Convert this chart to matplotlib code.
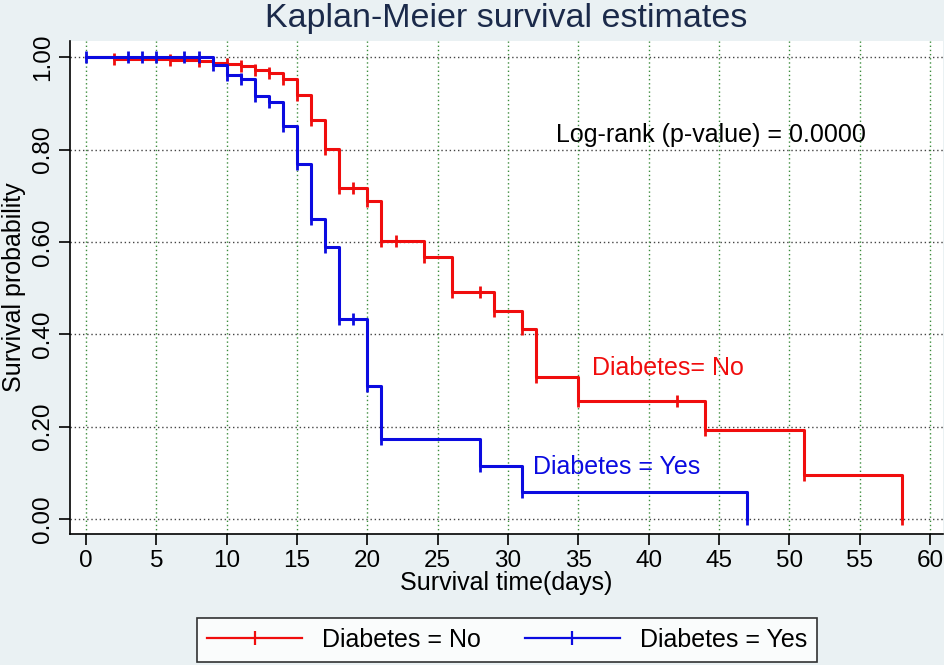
import matplotlib
matplotlib.use("Agg")
import matplotlib.pyplot as plt
from matplotlib.lines import Line2D
import numpy as np

# Kaplan-Meier steps (time in days, survival after the step)
no_time = [0, 2, 6, 8, 9, 10, 11, 12, 13, 14, 15, 16, 17, 18, 20, 21, 24, 26, 29, 31, 32, 35, 44, 51, 58]
no_surv = [1.0, 0.997, 0.994, 0.991, 0.988, 0.985, 0.980, 0.973, 0.965, 0.952, 0.918, 0.865,
           0.802, 0.716, 0.689, 0.603, 0.567, 0.492, 0.451, 0.411, 0.308, 0.256, 0.193, 0.095, 0.0]
no_ticks = [2, 6, 8, 10, 11, 12, 13, 14, 15, 16, 17, 18, 19, 20, 21, 22, 24, 26, 28, 29,
            31, 32, 35, 42, 44, 51, 58]

yes_time = [0, 9, 10, 11, 12, 13, 14, 15, 16, 17, 18, 20, 21, 28, 31, 47]
yes_surv = [1.0, 0.984, 0.962, 0.952, 0.915, 0.902, 0.851, 0.769, 0.649, 0.589, 0.433,
            0.289, 0.173, 0.115, 0.058, 0.0]
yes_ticks = [0, 3, 4, 5, 7, 8, 9, 10, 11, 12, 13, 14, 15, 16, 17, 18, 19, 20, 21, 28, 31, 47]

x_ticks = list(range(0, 61, 5))
y_ticks = [0.0, 0.2, 0.4, 0.6, 0.8, 1.0]

RED = "#f00d0d"
BLUE = "#0b0be0"
BG = "#eaf1f3"

plt.rcParams["font.family"] = ["Liberation Sans", "DejaVu Sans"]


def surv_at(times, surv, t):
    # value of the step function just after time t
    idx = np.searchsorted(times, t, side="right") - 1
    return np.array(surv)[idx]


fig = plt.figure(figsize=(9.45, 6.65), dpi=100, facecolor=BG)
ax = fig.add_axes([0.074, 0.197, 0.924, 0.741])
ax.set_facecolor("white")

# grid
for yv in y_ticks:
    ax.axhline(yv, color="#444444", lw=1.0, ls=(0, (1, 2)), zorder=1)
for xv in x_ticks:
    ax.axvline(xv, color="#3c8c3c", lw=1.0, ls=(0, (1, 2)), zorder=1)

# curves
ax.step(no_time, no_surv, where="post", color=RED, lw=2.2, zorder=3)
ax.plot(no_ticks, surv_at(no_time, no_surv, no_ticks), ls="none", marker="|",
        ms=9, mew=2, color=RED, zorder=3)
ax.step(yes_time, yes_surv, where="post", color=BLUE, lw=2.2, zorder=4)
ax.plot(yes_ticks, surv_at(yes_time, yes_surv, yes_ticks), ls="none", marker="|",
        ms=9, mew=2, color=BLUE, zorder=4)

ax.set_xlim(-1.14, 60.92)
ax.set_ylim(-0.0325, 1.0346)
ax.set_xticks(x_ticks)
ax.set_yticks(y_ticks)
ax.set_yticklabels([f"{v:.2f}" for v in y_ticks], rotation=90, va="center")
ax.tick_params(axis="both", labelsize=17.5, length=8, width=1.2, direction="out", colors="black")
for side in ["top", "right"]:
    ax.spines[side].set_visible(False)
for side in ["left", "bottom"]:
    ax.spines[side].set_linewidth(1.2)

ax.set_xlabel("Survival time(days)", fontsize=18, labelpad=-1)
ax.set_ylabel("Survival probability", fontsize=18, labelpad=4)
ax.set_title("Kaplan-Meier survival estimates", fontsize=24.5, color="#1b2a4a", pad=10)

ax.text(33.4, 0.816, "Log-rank (p-value) = 0.0000", fontsize=18, va="baseline", ha="left")
ax.text(35.96, 0.327, "Diabetes= No", fontsize=18, color=RED, va="center", ha="left")
ax.text(31.8, 0.113, "Diabetes = Yes", fontsize=18, color=BLUE, va="center", ha="left")

handles = [
    Line2D([], [], color=RED, lw=1.6, marker="|", ms=10, mew=1.6),
    Line2D([], [], color=BLUE, lw=1.6, marker="|", ms=10, mew=1.6),
]
leg = fig.legend(handles, ["Diabetes = No", "Diabetes = Yes"], loc="center", ncol=2,
                 bbox_to_anchor=(0.2085, 0.003, 0.656, 0.069), mode="expand",
                 fontsize=18, numpoints=1, handlelength=3.8, frameon=True, fancybox=False,
                 borderaxespad=0, edgecolor="black", handletextpad=0.8)
leg.get_frame().set_linewidth(1.2)

fig.savefig("out.png", dpi=100, facecolor=BG)
